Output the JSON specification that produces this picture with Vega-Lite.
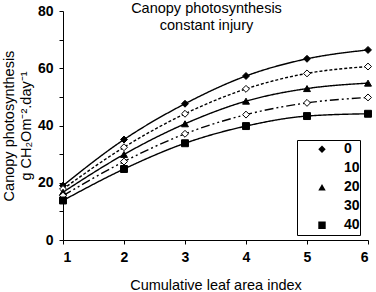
{
  "$schema": "https://vega.github.io/schema/vega-lite/v6.json",
  "width": 305,
  "height": 229,
  "autosize": {"type": "none"},
  "padding": {"left": 63, "top": 11, "right": 8, "bottom": 52},
  "background": "white",
  "config": {
    "font": "Liberation Sans",
    "view": {"stroke": null},
    "axis": {"grid": false, "domainColor": "black", "tickColor": "black", "labelColor": "black", "titleColor": "black", "labelFont": "Liberation Sans", "titleFont": "Liberation Sans"},
    "legend": {
      "orient": "none",
      "legendX": 234,
      "legendY": 129,
      "strokeColor": "black",
      "fillColor": "white",
      "padding": 0,
      "symbolSize": 55,
      "clipHeight": 18.5,
      "rowPadding": 0,
      "symbolOffset": 18,
      "symbolStrokeColor": "black",
      "symbolStrokeWidth": 1.2,
      "symbolOpacity": 1,
      "labelFontSize": 14,
      "labelFontWeight": "bold",
      "labelColor": "black",
      "labelOffset": 15
    }
  },
  "title": {
    "text": ["Canopy photosynthesis", "constant injury"],
    "fontSize": 14.5,
    "fontWeight": "normal",
    "font": "Liberation Sans",
    "color": "black",
    "anchor": "middle",
    "frame": "group",
    "lineHeight": 17,
    "offset": -29,
    "dx": -9
  },
  "data": {
    "values": [
      {"lai": 1, "p": 19.0, "injury": "0"},
      {"lai": 2, "p": 35.1, "injury": "0"},
      {"lai": 3, "p": 47.6, "injury": "0"},
      {"lai": 4, "p": 57.3, "injury": "0"},
      {"lai": 5, "p": 63.3, "injury": "0"},
      {"lai": 6, "p": 66.4, "injury": "0"},
      {"lai": 1, "p": 17.8, "injury": "10"},
      {"lai": 2, "p": 32.4, "injury": "10"},
      {"lai": 3, "p": 44.1, "injury": "10"},
      {"lai": 4, "p": 52.8, "injury": "10"},
      {"lai": 5, "p": 58.2, "injury": "10"},
      {"lai": 6, "p": 60.6, "injury": "10"},
      {"lai": 1, "p": 16.7, "injury": "20"},
      {"lai": 2, "p": 29.9, "injury": "20"},
      {"lai": 3, "p": 40.6, "injury": "20"},
      {"lai": 4, "p": 48.5, "injury": "20"},
      {"lai": 5, "p": 52.9, "injury": "20"},
      {"lai": 6, "p": 54.8, "injury": "20"},
      {"lai": 1, "p": 15.5, "injury": "30"},
      {"lai": 2, "p": 27.4, "injury": "30"},
      {"lai": 3, "p": 37.1, "injury": "30"},
      {"lai": 4, "p": 43.8, "injury": "30"},
      {"lai": 5, "p": 47.9, "injury": "30"},
      {"lai": 6, "p": 49.8, "injury": "30"},
      {"lai": 1, "p": 13.8, "injury": "40"},
      {"lai": 2, "p": 24.8, "injury": "40"},
      {"lai": 3, "p": 33.8, "injury": "40"},
      {"lai": 4, "p": 39.8, "injury": "40"},
      {"lai": 5, "p": 43.3, "injury": "40"},
      {"lai": 6, "p": 44.1, "injury": "40"}
    ]
  },
  "encoding": {
    "x": {
      "field": "lai", "type": "quantitative",
      "scale": {"domain": [1, 6], "nice": false, "zero": false},
      "axis": {"values": [1, 2, 3, 4, 5, 6], "format": "d", "title": "Cumulative leaf area index", "titleFontSize": 14.5, "titleFontWeight": "normal", "titlePadding": 14, "labelFontSize": 14, "labelFontWeight": "bold", "tickSize": 4, "labelPadding": 6}
    },
    "y": {
      "field": "p", "type": "quantitative",
      "scale": {"domain": [0, 80], "nice": false},
      "axis": {"values": [0, 10, 20, 30, 40, 50, 60, 70, 80], "labelExpr": "datum.value % 20 === 0 ? datum.label : ''", "title": ["Canopy photosynthesis", "g CH₂Om⁻².day⁻¹"], "titleFontSize": 14.5, "titleFontWeight": "normal", "titleLineHeight": 17, "titlePadding": 4, "labelFontSize": 14, "labelFontWeight": "bold", "tickSize": 4, "labelPadding": 6}
    }
  },
  "layer": [
    {
      "mark": {"type": "line", "interpolate": "monotone", "color": "black", "strokeWidth": 1.4},
      "encoding": {
        "detail": {"field": "injury"},
        "strokeDash": {
          "condition": [
            {"test": "datum.injury === '10'", "value": [3, 2]},
            {"test": "datum.injury === '30'", "value": [9, 3, 2, 3, 2, 3]}
          ],
          "value": [1, 0]
        }
      }
    },
    {
      "mark": {"type": "point", "filled": true, "strokeWidth": 1, "size": 48, "opacity": 1},
      "encoding": {
        "stroke": {"value": "black"},
        "fill": {
          "field": "injury", "type": "nominal",
          "scale": {"domain": ["0", "10", "20", "30", "40"], "range": ["black", "white", "black", "white", "black"]},
          "legend": {"title": null}
        },
        "shape": {
          "field": "injury", "type": "nominal",
          "scale": {"domain": ["0", "10", "20", "30", "40"], "range": ["diamond", "diamond", "triangle-up", "diamond", "square"]},
          "legend": {"title": null}
        }
      }
    }
  ]
}
